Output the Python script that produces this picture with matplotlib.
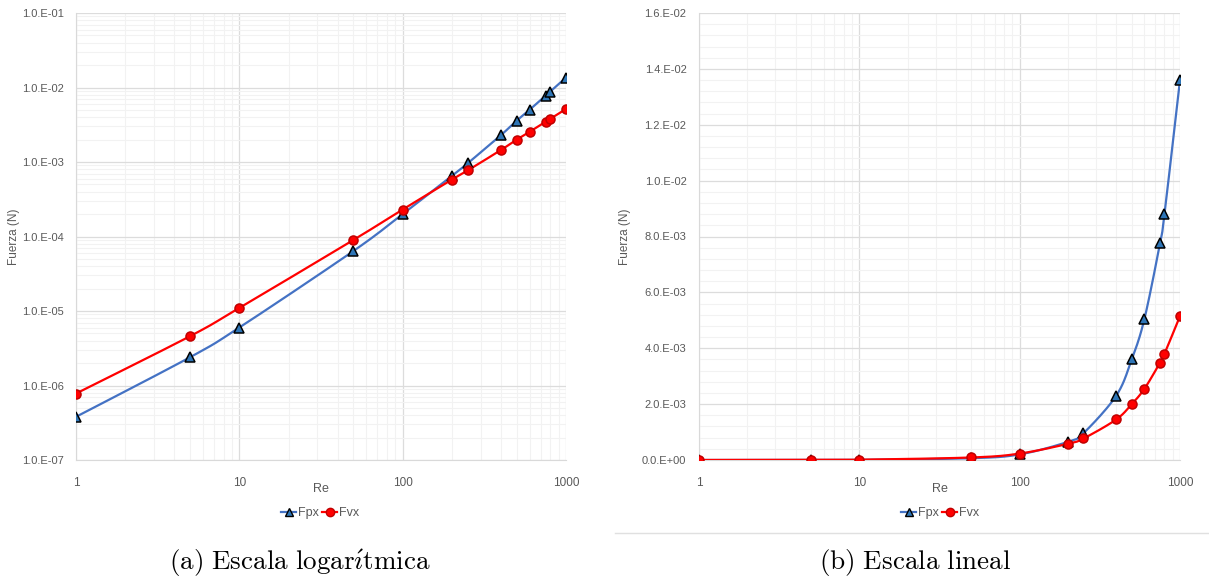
import numpy as np
import matplotlib.pyplot as plt
from matplotlib.lines import Line2D
from matplotlib.ticker import FixedLocator, NullFormatter

plt.rcParams['font.family'] = ['Liberation Sans', 'DejaVu Sans']
plt.rcParams['mathtext.fontset'] = 'cm'

# data
re = [1, 5, 10, 50, 100, 200, 250, 400, 500, 600, 750, 800, 1000]
fpx = [3.8e-7, 2.4e-6, 6.0e-6, 6.4e-5, 2.0e-4, 6.5e-4, 9.6e-4, 2.3e-3, 3.6e-3,
       5.05e-3, 7.75e-3, 8.8e-3, 1.36e-2]
fvx = [7.8e-7, 4.6e-6, 1.1e-5, 9.0e-5, 2.3e-4, 5.8e-4, 7.7e-4, 1.45e-3, 2.0e-3,
       2.55e-3, 3.48e-3, 3.8e-3, 5.15e-3]

log_ticks = [1e-7, 1e-6, 1e-5, 1e-4, 1e-3, 1e-2, 1e-1]
log_labels = ['1.0.E-07', '1.0.E-06', '1.0.E-05', '1.0.E-04', '1.0.E-03', '1.0.E-02', '1.0.E-01']
lin_ticks = [0, 0.002, 0.004, 0.006, 0.008, 0.010, 0.012, 0.014, 0.016]
lin_labels = ['0.0.E+00', '2.0.E-03', '4.0.E-03', '6.0.E-03', '8.0.E-03',
              '1.0.E-02', '1.2.E-02', '1.4.E-02', '1.6.E-02']

BLUE = '#4472C4'
RED = '#FF0000'
GRAY = '#595959'
W, H = 1209, 580


def smooth(x, y, sx, sy, n=20):
    # Excel-like smoothed line: Catmull-Rom in screen-ish coordinates
    px = np.log10(x) * sx
    py = np.asarray(y) * sy
    P = np.column_stack([px, py])
    P = np.vstack([P[0], P, P[-1]])
    out = []
    for i in range(1, len(P) - 2):
        p0, p1, p2, p3 = P[i - 1], P[i], P[i + 1], P[i + 2]
        t = np.linspace(0, 1, n)[:, None]
        seg = 0.5 * ((2 * p1) + (-p0 + p2) * t + (2 * p0 - 5 * p1 + 4 * p2 - p3) * t ** 2
                     + (-p0 + 3 * p1 - 3 * p2 + p3) * t ** 3)
        out.append(seg)
    out = np.vstack(out)
    return 10 ** (out[:, 0] / sx), out[:, 1] / sy


def style(ax, ylab_x):
    ax.set_xscale('log')
    ax.set_xlim(1, 1000)
    ax.set_xticks([1, 10, 100, 1000])
    ax.set_xticklabels(['1', '10', '100', '1000'])
    ax.xaxis.set_minor_formatter(NullFormatter())
    ax.grid(True, which='major', color='#dcdcdc', lw=0.9)
    ax.grid(True, which='minor', color='#f2f2f2', lw=0.8)
    ax.set_axisbelow(True)
    for s in ['top', 'right']:
        ax.spines[s].set_visible(False)
    for s in ['left', 'bottom']:
        ax.spines[s].set_color('#d9d9d9')
    ax.tick_params(which='both', length=0, colors=GRAY, labelsize=8)
    ax.tick_params(axis='x', pad=12, labelsize=8.5)
    ax.tick_params(axis='y', pad=9)
    ax.set_xlabel('Re', color=GRAY, fontsize=9, labelpad=-4)
    ax.set_ylabel('Fuerza (N)', color=GRAY, fontsize=8.5)
    ax.yaxis.set_label_coords(ylab_x, 0.5)


fig = plt.figure(figsize=(W / 100, H / 100), dpi=100)

# (a) log scale
ax1 = fig.add_axes([76 / W, 120 / H, 490 / W, 447 / H])
ax1.set_yscale('log')
ax1.set_ylim(1e-7, 1e-1)
ax1.yaxis.set_major_locator(FixedLocator(log_ticks))
ax1.set_yticklabels(log_labels)
ax1.yaxis.set_minor_formatter(NullFormatter())
style(ax1, (20 - 76) / 490)
for y, c, m, fc, ec in [(fpx, BLUE, '^', '#2E75B6', 'black'), (fvx, RED, 'o', RED, '#C00000')]:
    sx, sy = smooth(re, np.log10(y), 490 / 3, 447 / 6)
    ax1.plot(sx, 10 ** sy, color=c, lw=1.6, zorder=3)
    ax1.plot(re, y, ls='none', marker=m, ms=6.5, mfc=fc, mec=ec, mew=1.1, zorder=4)

# (b) linear scale
ax2 = fig.add_axes([699 / W, 120 / H, 481 / W, 447 / H])
ax2.set_ylim(0, 0.016)
ax2.set_yticks(lin_ticks)
ax2.set_yticklabels(lin_labels)
ax2.yaxis.set_minor_locator(FixedLocator(np.arange(0, 0.0161, 0.0004)))
style(ax2, (631 - 699) / 481)
for y, c, m, fc, ec in [(fpx, BLUE, '^', '#2E75B6', 'black'), (fvx, RED, 'o', RED, '#C00000')]:
    sx, sy = smooth(re, y, 481 / 3, 447 / 0.016)
    ax2.plot(sx, sy, color=c, lw=1.6, zorder=3)
    ax2.plot(re, y, ls='none', marker=m, ms=6.5, mfc=fc, mec=ec, mew=1.1, zorder=4)

handles = [Line2D([], [], color=BLUE, lw=1.6, marker='^', ms=6, mfc='#2E75B6', mec='black'),
           Line2D([], [], color=RED, lw=1.6, marker='o', ms=6, mfc=RED, mec='#C00000')]
for cx in [320, 940]:
    fig.legend(handles, ['Fpx', 'Fvx'], loc='center', bbox_to_anchor=(cx / W, 1 - 513 / H),
               ncol=2, frameon=False, fontsize=9, labelcolor=GRAY, handlelength=1.2,
               handletextpad=0.1, columnspacing=0.3)

fig.add_artist(Line2D([615 / W, 1], [1 - 533 / H] * 2, color='#e0e0e0', lw=1))

fig.text(300 / W, 1 - 563 / H, r'$\mathrm{(a)\ Escala\ logar\acute{\imath}tmica}$',
         ha='center', va='center', fontsize=19.5)
fig.text(915 / W, 1 - 563 / H, r'$\mathrm{(b)\ Escala\ lineal}$',
         ha='center', va='center', fontsize=19.5)

fig.savefig('out.png', dpi=100)
